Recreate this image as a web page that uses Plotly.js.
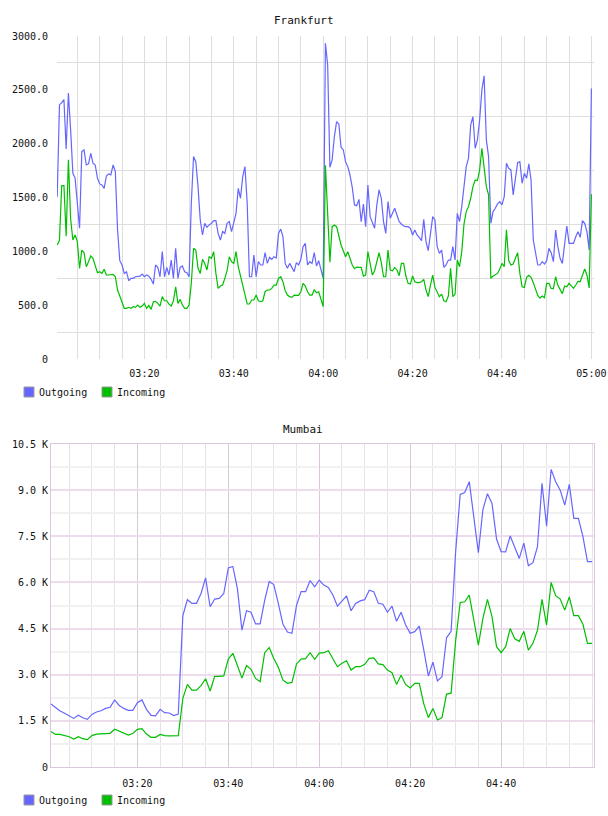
<!DOCTYPE html>
<html>
<head>
<meta charset="utf-8">
<script src="https://cdn.plot.ly/plotly-3.0.1.min.js"></script>
<style>
  html, body { margin: 0; padding: 0; background: #ffffff; }
  #chart { width: 608px; height: 816px; }
</style>
</head>
<body>
<div id="chart"></div>
<script>
// ---- Frankfurt: 30-second samples, 03:00:30 .. 05:00:00 ----
const frankfurtStart = '2000-01-01T03:00:30';
const frankfurtStepSec = 30;
const frankfurtOutgoing = [
  1508, 2360, 2382, 2410, 1950, 2470, 2128, 1725, 1680, 1415,
  1214, 1926, 1942, 1802, 1812, 1911, 1818, 1802, 1680, 1626,
  1616, 1585, 1700, 1719, 1710, 1802, 1740, 1198, 913, 873,
  795, 811, 727, 749, 749, 764, 770, 770, 789, 764,
  780, 770, 740, 696, 873, 851, 764, 997, 764, 851,
  780, 919, 749, 1028, 749, 851, 864, 811, 802, 764,
  1446, 1880, 1833, 1601, 1291, 1152, 1260, 1223, 1245, 1260,
  1285, 1285, 1167, 1105, 1183, 1167, 1260, 1276, 1183, 1276,
  1353, 1585, 1493, 1694, 1787, 1446, 764, 764, 966, 764,
  904, 873, 873, 988, 888, 944, 926, 950, 938, 1167,
  1207, 1136, 888, 842, 888, 851, 811, 895, 873, 926,
  1043, 1074, 873, 904, 888, 988, 864, 913, 833, 749,
  2933, 2732, 1780, 1849, 2066, 2205, 2183, 1967, 1942, 1833,
  1787, 1709, 1595, 1431, 1424, 1483, 1276, 1440, 1229, 1616,
  1322, 1266, 1214, 1431, 1570, 1493, 1276, 1167, 1462, 1307,
  1359, 1400, 1338, 1276, 1254, 1235, 1229, 1229, 1214, 1152,
  1198, 1152, 1130, 1099, 1297, 1090, 1006, 1192, 1322, 1291,
  1043, 981, 1012, 851, 873, 919, 919, 1043, 919, 1353,
  1276, 1415, 1632, 1787, 1864, 2174, 2252, 1957, 2035, 2221,
  2500, 2630, 2035, 1880, 1260, 1369, 1400, 1440, 1462, 1431,
  1508, 1818, 1771, 1756, 1524, 1694, 1824, 1833, 1632, 1725,
  1678, 1812, 1663, 1105, 981, 873, 873, 904, 882, 913,
  1028, 988, 904, 1198, 1043, 935, 888, 1074, 1235, 1074,
  1074, 1074, 1136, 1183, 1130, 1285, 1260, 1183, 1012, 2512
];
const frankfurtIncoming = [
  1060, 1100, 1610, 1610, 1140, 1850, 1300, 1105, 1152, 1090,
  842, 1012, 988, 857, 904, 957, 935, 864, 802, 811,
  795, 833, 780, 780, 780, 786, 764, 641, 585, 517,
  470, 470, 480, 470, 486, 480, 501, 480, 492, 517,
  470, 498, 461, 532, 535, 517, 492, 579, 541, 541,
  510, 492, 541, 671, 517, 554, 501, 470, 470, 501,
  703, 1028, 1012, 842, 795, 926, 888, 827, 950, 935,
  997, 795, 656, 678, 687, 749, 820, 950, 904, 888,
  997, 857, 764, 696, 594, 511, 511, 548, 548, 594,
  541, 532, 541, 625, 641, 641, 656, 687, 687, 749,
  764, 718, 634, 594, 579, 572, 594, 594, 591, 625,
  703, 678, 625, 594, 594, 641, 616, 625, 563, 486,
  1800, 1400, 900, 1229, 1245, 1229, 1130, 1059, 1006, 950,
  997, 926, 873, 839, 854, 851, 851, 770, 780, 997,
  888, 780, 820, 904, 988, 895, 764, 764, 1012, 827,
  820, 851, 827, 774, 888, 888, 771, 703, 696, 771,
  718, 709, 709, 718, 740, 641, 579, 687, 780, 665,
  616, 579, 603, 541, 532, 585, 842, 579, 603, 919,
  857, 997, 1254, 1369, 1415, 1493, 1601, 1663, 1657, 1756,
  1957, 1787, 1601, 1524, 749, 771, 780, 795, 836, 888,
  857, 1200, 913, 873, 882, 935, 988, 795, 671, 665,
  758, 777, 758, 709, 641, 591, 566, 585, 569, 703,
  703, 656, 653, 764, 684, 641, 607, 678, 671, 703,
  678, 656, 687, 721, 718, 780, 836, 780, 660, 1530
];

// ---- Mumbai: 1-minute samples, 03:01 .. 05:00 ----
const mumbaiStart = '2000-01-01T03:01:00';
const mumbaiStepSec = 60;
const mumbaiOutgoing = [
  2048, 1930, 1820, 1745, 1670, 1580, 1680, 1600, 1550, 1710,
  1790, 1830, 1905, 1940, 2180, 2000, 1905, 1840, 1840, 2090,
  2180, 1875, 1680, 1660, 1875, 1765, 1755, 1670, 1720, 4920,
  5440, 5320, 5320, 5640, 6150, 5210, 5460, 5480, 5640, 6470,
  6520, 5800, 4450, 5080, 5030, 4650, 4650, 5420, 6030, 5930,
  5320, 4650, 4390, 4345, 5250, 5700, 5700, 6060, 5860, 6070,
  5915, 5840, 5590, 5230, 5395, 5560, 5080, 5320, 5400, 5440,
  5750, 5700, 5320, 5290, 5030, 5230, 4735, 5030, 4615, 4345,
  4400, 4580, 3800, 2960, 3410, 2800, 2935, 4200, 4410, 7000,
  8860, 8925, 9275, 8140, 6970, 8370, 8885, 8570, 7410, 7000,
  6990, 7510, 7130, 6780, 7280, 6545, 6640, 7160, 9220, 7830,
  9675, 9275, 9000, 8515, 9185, 8080, 8080, 7490, 6675, 6675
];
const mumbaiIncoming = [
  1150, 1060, 1060, 1030, 985, 910, 985, 920, 890, 1020,
  1070, 1080, 1090, 1095, 1225, 1170, 1095, 1040, 1090, 1225,
  1245, 1070, 965, 965, 1060, 1020, 1010, 1010, 1020, 2230,
  2685, 2500, 2500, 2645, 2870, 2470, 2945, 2945, 2960, 3510,
  3695, 3300, 2890, 3300, 3175, 2880, 2775, 3715, 3880, 3530,
  3240, 2830, 2720, 2750, 3350, 3510, 3520, 3715, 3500, 3700,
  3715, 3780, 3510, 3260, 3370, 3455, 3150, 3260, 3260, 3340,
  3530, 3550, 3350, 3330, 3150, 3065, 2685, 2980, 2685, 2570,
  2720, 2720, 2050, 1605, 1905, 1530, 1605, 2370, 2400, 4100,
  5350, 5370, 5590, 4780, 3965, 4830, 5450, 4890, 3910, 3715,
  3910, 4505, 4170, 4085, 4410, 3800, 4020, 4445, 5450, 4615,
  6000, 5570, 5460, 5100, 5530, 4920, 4920, 4640, 4020, 4020
];

// ---- axis labels ----
const frankfurtYTicks = [0, 500, 1000, 1500, 2000, 2500, 3000];
const frankfurtYLabels = ['0', '500.0', '1000.0', '1500.0', '2000.0', '2500.0', '3000.0'];
const frankfurtYGrid = [250, 750, 1250, 1750, 2250, 2750];
const frankfurtXTicks = ['03:20', '03:40', '04:00', '04:20', '04:40', '05:00'];
const mumbaiYTicks = [0, 1500, 3000, 4500, 6000, 7500, 9000, 10500];
const mumbaiYLabels = ['0', '1.5 K', '3.0 K', '4.5 K', '6.0 K', '7.5 K', '9.0 K', '10.5 K'];
const mumbaiXTicks = ['03:20', '03:40', '04:00', '04:20', '04:40'];
const seriesNames = ['Outgoing', 'Incoming'];

// ---- helpers ----
const DAY = '2000-01-01';
function timeAxis(startIso, stepSec, n) {
  const t0 = new Date(startIso + 'Z').getTime();
  const out = [];
  for (let i = 0; i < n; i++) {
    out.push(new Date(t0 + i * stepSec * 1000).toISOString().replace('Z', ''));
  }
  return out;
}
const W = 608, H = 816;
const px = x => x / W;
const py = y => 1 - y / H;

const blue = '#6666ff';
const green = '#00bf00';
const mono = 'DejaVu Sans Mono';
const tickFont = { family: mono, size: 10, color: '#111111' };

const fx = timeAxis(frankfurtStart, frankfurtStepSec, frankfurtOutgoing.length);
const mx = timeAxis(mumbaiStart, mumbaiStepSec, mumbaiOutgoing.length);

const traces = [
  { x: fx, y: frankfurtOutgoing, name: seriesNames[0], type: 'scatter', mode: 'lines',
    line: { color: blue, width: 1.2 }, xaxis: 'x', yaxis: 'y', hoverinfo: 'skip' },
  { x: fx, y: frankfurtIncoming, name: seriesNames[1], type: 'scatter', mode: 'lines',
    line: { color: green, width: 1.2 }, xaxis: 'x', yaxis: 'y', hoverinfo: 'skip' },
  { x: mx, y: mumbaiOutgoing, name: seriesNames[0], type: 'scatter', mode: 'lines',
    line: { color: blue, width: 1.2 }, xaxis: 'x2', yaxis: 'y2', hoverinfo: 'skip' },
  { x: mx, y: mumbaiIncoming, name: seriesNames[1], type: 'scatter', mode: 'lines',
    line: { color: green, width: 1.2 }, xaxis: 'x2', yaxis: 'y2', hoverinfo: 'skip' }
];

const grayGrid = '#dedede';
// Mumbai grid: pink major lines, pale minor lines
const pinkV = '#dcc6dc';
const pinkH = '#ecdcec';
const minorV = '#e8e2e8';
const minorH = '#f1f1f1';

// legend boxes + labels under each panel
function legendItems(yCenter) {
  const shapes = [], anns = [];
  const items = [[24, blue, seriesNames[0]], [102, green, seriesNames[1]]];
  items.forEach(([x0, col, label]) => {
    shapes.push({ type: 'rect', xref: 'paper', yref: 'paper',
      x0: px(x0), x1: px(x0 + 10), y0: py(yCenter + 5), y1: py(yCenter - 5),
      fillcolor: col, line: { color: '#999999', width: 1 } });
    anns.push({ xref: 'paper', yref: 'paper', x: px(x0 + 13), y: py(yCenter),
      xanchor: 'left', yanchor: 'middle', showarrow: false, text: label,
      font: { family: mono, size: 10, color: '#111111' } });
  });
  return { shapes, anns };
}
const leg1 = legendItems(392);
const leg2 = legendItems(800);

const titles = [
  { xref: 'paper', yref: 'paper', x: px(304), y: py(20), xanchor: 'center', yanchor: 'middle',
    showarrow: false, text: 'Frankfurt', font: { family: mono, size: 11, color: '#111111' } },
  { xref: 'paper', yref: 'paper', x: px(303), y: py(429), xanchor: 'center', yanchor: 'middle',
    showarrow: false, text: 'Mumbai', font: { family: mono, size: 11, color: '#111111' } }
];

const layout = {
  width: W, height: H,
  margin: { l: 0, r: 0, t: 0, b: 0 },
  paper_bgcolor: '#ffffff', plot_bgcolor: '#ffffff',
  showlegend: false,
  xaxis: {
    domain: [px(57), px(594)], anchor: 'y', type: 'date',
    range: [DAY + ' 03:00:27', DAY + ' 05:00:35'],
    tickmode: 'array', tickvals: frankfurtXTicks.map(t => DAY + ' ' + t),
    ticktext: frankfurtXTicks,
    showgrid: true, gridcolor: grayGrid, gridwidth: 1,
    minor: { dtick: 300000, tick0: DAY + ' 03:00', showgrid: true, gridcolor: grayGrid, gridwidth: 1, ticks: '' },
    zeroline: false, showline: false, ticks: '', ticklabelstandoff: 7,
    tickfont: tickFont, fixedrange: true
  },
  yaxis: {
    domain: [py(359), py(36)], anchor: 'x',
    range: [0, 3000],
    tickmode: 'array', tickvals: frankfurtYTicks, ticktext: frankfurtYLabels,
    showgrid: false,
    minor: { tickmode: 'array', tickvals: frankfurtYGrid, showgrid: true, gridcolor: grayGrid, gridwidth: 1, ticks: '' },
    zeroline: false, showline: false, ticks: '', ticklabelstandoff: 8,
    tickfont: tickFont, fixedrange: true
  },
  xaxis2: {
    domain: [px(51), px(594)], anchor: 'y2', type: 'date',
    range: [DAY + ' 03:01:00', DAY + ' 05:00:26'],
    tickmode: 'array', tickvals: mumbaiXTicks.map(t => DAY + ' ' + t),
    ticktext: mumbaiXTicks,
    showgrid: true, gridcolor: pinkV, gridwidth: 1,
    minor: { dtick: 300000, tick0: DAY + ' 03:00', showgrid: true, gridcolor: minorV, gridwidth: 1, ticks: '' },
    zeroline: false, showline: true, linecolor: pinkV, linewidth: 1, mirror: true,
    ticks: '', ticklabelstandoff: 7, tickfont: tickFont, fixedrange: true
  },
  yaxis2: {
    domain: [py(767), py(444)], anchor: 'x2',
    range: [0, 10500],
    tickmode: 'array', tickvals: mumbaiYTicks, ticktext: mumbaiYLabels,
    showgrid: true, gridcolor: pinkH, gridwidth: 2,
    minor: { dtick: 750, tick0: 0, showgrid: true, gridcolor: minorH, gridwidth: 2, ticks: '' },
    zeroline: false, showline: true, linecolor: pinkV, linewidth: 1, mirror: true,
    ticks: '', tickfont: tickFont, fixedrange: true
  },
  shapes: leg1.shapes.concat(leg2.shapes),
  annotations: titles.concat(leg1.anns, leg2.anns)
};

Plotly.newPlot('chart', traces, layout, { displayModeBar: false, staticPlot: true });
</script>
</body>
</html>
